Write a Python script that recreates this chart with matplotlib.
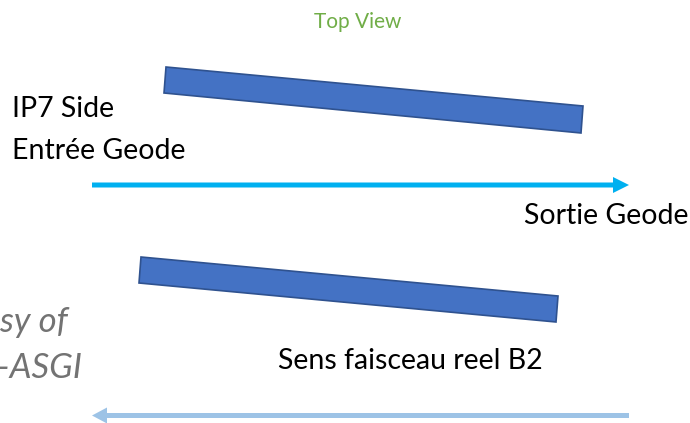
import matplotlib
matplotlib.use("Agg")
import matplotlib.pyplot as plt
from matplotlib.patches import Polygon, FancyArrow

plt.rcParams['font.family'] = ['Lato', 'DejaVu Sans']

# corners of the two slanted bars (pixel coordinates, y down)
top_bar = [(166, 67), (583, 106), (581, 133), (164, 93)]
bottom_bar = [(141, 257), (558, 296), (556, 322), (139, 283)]

# arrows: start x, end x, y
arrow_out = (92, 629, 185)
arrow_beam = (629, 92, 415.5)

labels = ["Top View", "IP7 Side", "Entrée Geode", "Sortie Geode",
          "Sens faisceau reel B2"]
credit = ["Courtesy of", "CERN-ASGI"]

W, H = 690, 423
fig = plt.figure(figsize=(W / 100, H / 100), dpi=100)
ax = fig.add_axes([0, 0, 1, 1])
ax.set_xlim(0, W)
ax.set_ylim(H, 0)
ax.axis("off")

for bar in (top_bar, bottom_bar):
    ax.add_patch(Polygon(bar, closed=True, facecolor="#4472C4",
                         edgecolor="#2F528F", lw=1.2))

x0, x1, y = arrow_out
ax.add_patch(FancyArrow(x0, y, x1 - x0, 0, width=5, head_width=16,
                        head_length=16, length_includes_head=True,
                        color="#00B0F0", lw=0))
x0, x1, y = arrow_beam
ax.add_patch(FancyArrow(x0, y, x1 - x0, 0, width=5, head_width=16,
                        head_length=15, length_includes_head=True,
                        color="#9DC3E6", lw=0))

ax.text(358, 28, labels[0], color="#70AD47", fontsize=15,
        ha="center", va="baseline")
ax.text(12, 117, labels[1], fontsize=20.5, ha="left", va="baseline")
ax.text(12, 159, labels[2], fontsize=20.5, ha="left", va="baseline")
ax.text(688, 224, labels[3], fontsize=20.5, ha="right", va="baseline")
ax.text(410, 369, labels[4], fontsize=20.5, ha="center", va="baseline")

# credit text runs off the left edge in the original
ax.text(68, 332, credit[0], fontsize=25, style="italic", color="#737373",
        ha="right", va="baseline")
ax.text(82, 378, credit[1], fontsize=25, style="italic", color="#737373",
        ha="right", va="baseline")

fig.savefig("out.png", dpi=100)
